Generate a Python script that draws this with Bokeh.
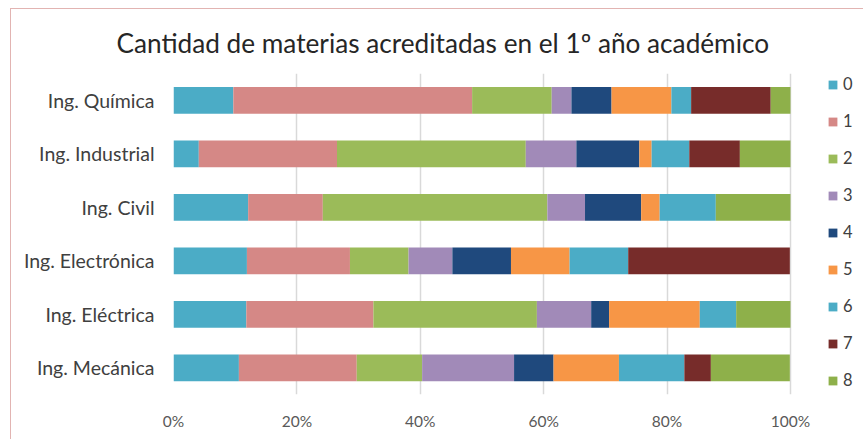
from bokeh.plotting import figure
from bokeh.models import ColumnDataSource, FactorRange, FixedTicker, PrintfTickFormatter, Legend, Range1d
from bokeh.embed import file_html
from bokeh.resources import INLINE

careers = ["Ing. Química", "Ing. Industrial", "Ing. Civil", "Ing. Electrónica", "Ing. Eléctrica", "Ing. Mecánica"]
series = ["0", "1", "2", "3", "4", "5", "6", "7", "8"]
# percentage of students per number of accredited subjects
s0 = [9.7, 4.1, 12.1, 11.9, 11.8, 10.6]
s1 = [38.7, 22.4, 12.1, 16.7, 20.6, 19.1]
s2 = [12.9, 30.6, 36.4, 9.5, 26.5, 10.6]
s3 = [3.2, 8.2, 6.1, 7.1, 8.8, 14.9]
s4 = [6.5, 10.2, 9.1, 9.5, 2.9, 6.4]
s5 = [9.7, 2.0, 3.0, 9.5, 14.7, 10.6]
s6 = [3.2, 6.1, 9.1, 9.5, 5.9, 10.6]
s7 = [12.9, 8.2, 0.0, 26.2, 0.0, 4.3]
s8 = [3.2, 8.2, 12.1, 0.0, 8.8, 12.8]
x_ticks = [0, 20, 40, 60, 80, 100]

colors = ["#4BACC6", "#D58886", "#9BBB59", "#A18AB8", "#1F497D", "#F79646", "#4BACC6", "#772C2A", "#8EB04A"]
values = [s0, s1, s2, s3, s4, s5, s6, s7, s8]
keys = ["s" + k for k in series]

data = {"career": careers}
for k, v in zip(keys, values):
    data[k] = v
source = ColumnDataSource(data)

FONT = "Lato"

# the frame extends under the legend; the axis visibly runs from 0% to 100%
p = figure(width=853, height=431, output_backend="svg", toolbar_location=None,
           y_range=FactorRange(factors=list(reversed(careers))),
           x_range=Range1d(0, 112),
           min_border_left=162, min_border_right=0, min_border_top=64, min_border_bottom=46,
           styles={"margin-left": "10px", "margin-top": "8px",
                   "border-left": "1.5px solid #E2B4B2", "border-top": "1.5px solid #E2B4B2"})

p.title.text = "Cantidad de materias acreditadas en el 1º año académico"
p.title.text_font = FONT
p.title.text_font_size = "26.2px"
p.title.text_font_style = "normal"
p.title.text_color = "#262626"
p.title.align = "left"
p.title.offset = -57
p.title.standoff = 30

renderers = p.hbar_stack(keys, y="career", height=0.5, color=colors, source=source, line_width=0)

legend = Legend(items=[(s, [r]) for s, r in zip(series, renderers)], location=(654, 4))
legend.label_text_font = FONT
legend.label_text_font_size = "16.5px"
legend.label_text_color = "#404040"
legend.glyph_width = 11
legend.glyph_height = 11
legend.label_height = 20
legend.spacing = 17
legend.padding = 0
legend.margin = 0
legend.label_standoff = 5
legend.border_line_color = None
legend.background_fill_alpha = 0
p.add_layout(legend, "center")

p.outline_line_color = None
p.background_fill_color = "white"
p.border_fill_color = "white"

p.xaxis.ticker = FixedTicker(ticks=x_ticks)
p.xaxis.formatter = PrintfTickFormatter(format="%d%%")
p.xaxis.axis_line_color = None
p.xaxis.major_tick_line_color = None
p.xaxis.major_tick_out = 0
p.xaxis.major_tick_in = 0
p.xaxis.minor_tick_line_color = None
p.xaxis.major_label_text_font = FONT
p.xaxis.major_label_text_font_size = "15.5px"
p.xaxis.major_label_text_color = "#595959"
p.xaxis.major_label_standoff = 17

p.yaxis.axis_line_color = None
p.yaxis.major_tick_line_color = None
p.yaxis.major_tick_out = 0
p.yaxis.major_tick_in = 0
p.yaxis.major_label_text_font = FONT
p.yaxis.major_label_text_font_size = "19.5px"
p.yaxis.major_label_text_color = "#404040"
p.yaxis.major_label_standoff = 19

p.xgrid.grid_line_color = "#D9D9D9"
p.xgrid.grid_line_width = 1.5
p.ygrid.grid_line_color = None

open("out.html", "w").write(file_html(p, INLINE))
